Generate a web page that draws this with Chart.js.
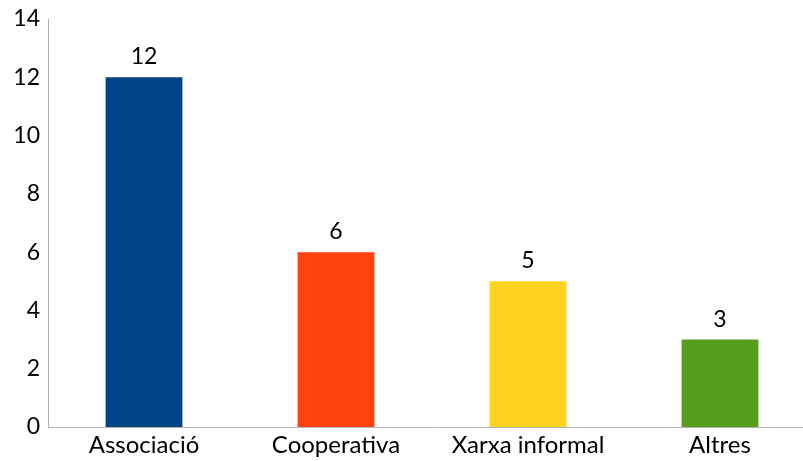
<!DOCTYPE html>
<html>
<head>
<meta charset="utf-8">
<script src="https://cdn.jsdelivr.net/npm/chart.js@4"></script>
<style>
    html, body { margin: 0; padding: 0; background: #fff; overflow: hidden; }
    #wrap { width: 816px; height: 461px; }
</style>
</head>
<body>
<div id="wrap"><canvas id="chart" width="816" height="461"></canvas></div>
<script>
/**=================
 * Data
 =================*/
const categories = ['Associació', 'Cooperativa', 'Xarxa informal', 'Altres'];
const counts = [12, 6, 5, 3];
const barColors = ['#004586', '#ff420e', '#ffd320', '#579d1c'];
const yTicks = [0, 2, 4, 6, 8, 10, 12, 14];

/**=================
 * Value labels on top of bars
 =================*/
const valueLabels = {
    id: 'valueLabels',
    afterDatasetsDraw(chart) {
        const ctx = chart.ctx;
        const meta = chart.getDatasetMeta(0);
        ctx.save();
        ctx.font = '23px Lato';
        ctx.fillStyle = '#000';
        ctx.textAlign = 'center';
        ctx.textBaseline = 'alphabetic';
        meta.data.forEach((bar, i) => {
            ctx.fillText(counts[i], bar.x, bar.y - 13);
        });
        ctx.restore();
    }
};

const chart = new Chart(document.getElementById('chart'), {
    type: 'bar',
    data: {
        labels: categories,
        datasets: [{
            data: counts,
            backgroundColor: barColors,
            categoryPercentage: 1,
            barPercentage: 0.4
        }]
    },
    options: {
        responsive: false,
        animation: false,
        layout: { padding: { top: 19, right: 0, left: 0, bottom: 0 } },
        plugins: {
            legend: { display: false },
            tooltip: { enabled: false }
        },
        scales: {
            x: {
                grid: { display: false, drawTicks: false },
                border: { display: true, color: '#b3b3b3', width: 1 },
                ticks: { color: '#000', font: { family: 'Lato', size: 24 }, padding: 4 },
                afterFit: (scale) => { scale.height = 34; }
            },
            y: {
                min: 0,
                max: 14,
                grid: { display: false, drawTicks: false },
                border: { display: true, color: '#b3b3b3', width: 1 },
                afterBuildTicks: (scale) => { scale.ticks = yTicks.map(v => ({ value: v })); },
                ticks: { color: '#000', font: { family: 'Lato', size: 23 }, padding: 8 },
                afterFit: (scale) => {
                    scale.width = 48;
                    scale.paddingTop = 0;
                    scale.paddingBottom = 0;
                }
            }
        }
    },
    plugins: [valueLabels]
});
</script>
</body>
</html>
